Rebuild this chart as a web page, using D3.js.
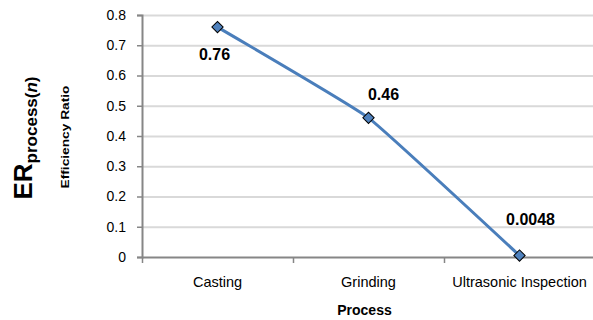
<!DOCTYPE html>
<html>
<head>
<meta charset="utf-8">
<script src="https://cdn.jsdelivr.net/npm/d3@7"></script>
<style>
  body { margin: 0; background: #fff; }
  svg { display: block; }
</style>
</head>
<body>
<div id="chart"></div>
<script>
// data
const categories = ["Casting", "Grinding", "Ultrasonic Inspection"];
const values = [0.76, 0.46, 0.0048];
const valueLabels = ["0.76", "0.46", "0.0048"];
const yTicks = [0, 0.1, 0.2, 0.3, 0.4, 0.5, 0.6, 0.7, 0.8];

const W = 593, H = 320;
const margin = {top: 15, right: 0, bottom: 63, left: 142};
const plotW = 453, plotH = H - margin.top - margin.bottom;

const svg = d3.select("#chart").append("svg")
  .attr("width", W).attr("height", H);

const g = svg.append("g").attr("transform", `translate(${margin.left},${margin.top})`);

const x = d3.scaleBand().domain(categories).range([0, plotW]);
const y = d3.scaleLinear().domain([0, 0.8]).range([plotH, 0]);

const tickFont = "'Liberation Sans', Arial, sans-serif";

// gridlines (via axis with long ticks)
const grid = g.append("g")
  .call(d3.axisLeft(y).tickValues(yTicks.filter(d => d > 0)).tickSize(-plotW).tickFormat(""));
grid.select(".domain").remove();
grid.selectAll(".tick line").attr("stroke", "#d9d9d9").attr("stroke-width", 2);

// y axis
const yAxis = g.append("g")
  .call(d3.axisLeft(y).tickValues(yTicks).tickFormat(d => d === 0 ? "0" : d3.format(".1f")(d)).tickSize(5).tickPadding(11));
yAxis.select(".domain").attr("stroke", "#868686").attr("stroke-width", 2);
yAxis.selectAll(".tick line").attr("stroke", "#868686").attr("stroke-width", 1.5);
yAxis.selectAll("text").style("font-family", tickFont).style("font-size", "14px").attr("fill", "#000");

// x axis
const xAxis = g.append("g").attr("transform", `translate(0,${plotH})`)
  .call(d3.axisBottom(x).tickSize(0).tickPadding(20));
xAxis.select(".domain").attr("stroke", "#868686").attr("stroke-width", 2);
xAxis.selectAll("text").style("font-family", tickFont).style("font-size", "14.5px").attr("fill", "#000");

// category boundary tick marks
const xb = d3.scaleLinear().domain([0, categories.length]).range([0, plotW]);
const xBound = g.append("g").attr("transform", `translate(0,${plotH})`)
  .call(d3.axisBottom(xb).tickValues(d3.range(categories.length + 1)).tickSize(6).tickFormat(""));
xBound.select(".domain").remove();
xBound.selectAll(".tick line").attr("stroke", "#868686").attr("stroke-width", 1.5);

// line
const pts = categories.map((c, i) => [x(c) + x.bandwidth() / 2, y(values[i])]);
g.append("path")
  .datum(pts)
  .attr("d", d3.line().curve(d3.curveCardinal.tension(0.7)))
  .attr("fill", "none")
  .attr("stroke", "#4a7ebb")
  .attr("stroke-width", 3);

// markers
g.selectAll(".pt").data(pts).join("rect")
  .attr("class", "pt")
  .attr("x", -4).attr("y", -4).attr("width", 8).attr("height", 8)
  .attr("transform", d => `translate(${d[0]},${d[1]}) rotate(45)`)
  .attr("fill", "#4f81bd").attr("stroke", "#000").attr("stroke-width", 1);

// data labels
const labelOffsets = [[-3, 33], [15, -18], [11, -31]];
g.selectAll(".lbl").data(pts).join("text")
  .attr("class", "lbl")
  .attr("x", (d, i) => d[0] + labelOffsets[i][0])
  .attr("y", (d, i) => d[1] + labelOffsets[i][1])
  .attr("text-anchor", "middle")
  .style("font-family", "'Liberation Sans', Arial, sans-serif")
  .style("font-size", "16px").style("font-weight", "bold")
  .text((d, i) => valueLabels[i]);

// x title
svg.append("text")
  .attr("x", margin.left + plotW / 2 - 4).attr("y", 315)
  .attr("text-anchor", "middle")
  .style("font-family", tickFont).style("font-size", "14px").style("font-weight", "bold")
  .text("Process");

// y titles
const yt = svg.append("text")
  .attr("transform", "translate(32,138) rotate(-90)")
  .attr("text-anchor", "middle")
  .style("font-family", "'Liberation Sans', Arial, sans-serif")
  .style("font-weight", "bold");
yt.append("tspan").style("font-size", "26px").text("ER");
yt.append("tspan").style("font-size", "17px").attr("dy", 5).text("process(");
yt.append("tspan").style("font-size", "17px").style("font-style", "italic").text("n");
yt.append("tspan").style("font-size", "17px").text(")");

svg.append("text")
  .attr("transform", "translate(69,137) rotate(-90)")
  .attr("text-anchor", "middle")
  .style("font-family", "'Liberation Sans', Arial, sans-serif")
  .style("font-size", "11px").style("font-weight", "bold")
  .attr("textLength", 103).attr("lengthAdjust", "spacingAndGlyphs")
  .text("Efficiency Ratio");
</script>
</body>
</html>
